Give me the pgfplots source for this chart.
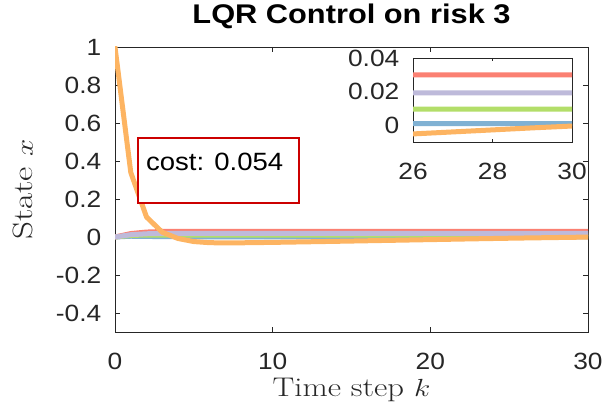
\documentclass[border=0pt]{standalone}
\usepackage{graphicx}
\usepackage{fontspec}
\usepackage{pgfplots}
\usepackage{pgfplotstable}
\pgfplotsset{compat=1.18}
\newfontfamily\hv{Liberation Sans}

\definecolor{axgray}{RGB}{38,38,38}
\definecolor{sBlue}{RGB}{128,177,211}
\definecolor{sGreen}{RGB}{179,222,105}
\definecolor{sRed}{RGB}{251,128,114}
\definecolor{sPurple}{RGB}{190,186,218}
\definecolor{sOrange}{RGB}{253,180,98}
\definecolor{boxred}{RGB}{204,0,0}

% closed-loop state trajectories, one column per state
\pgfplotstableread{
k  blue    green   red     purple  orange
0  0.0000  0.0000  0.0000  0.0000  1.0000
1  0.0040  0.0080  0.0180  0.0120  0.3400
2  0.0030  0.0105  0.0260  0.0170  0.1050
3  0.0020  0.0100  0.0290  0.0187  0.0250
4  0.0015  0.0097  0.0298  0.0191  -0.0080
5  0.0012  0.0096  0.0300  0.0192  -0.0240
6  0.0010  0.0096  0.0300  0.0192  -0.0300
7  0.0010  0.0096  0.0300  0.0192  -0.0310
8  0.0010  0.0096  0.0300  0.0192  -0.0305
9  0.0010  0.0096  0.0300  0.0192  -0.0295
10 0.0010  0.0096  0.0300  0.0192  -0.0283
11 0.0010  0.0096  0.0300  0.0192  -0.0270
12 0.0010  0.0096  0.0300  0.0192  -0.0256
13 0.0010  0.0096  0.0300  0.0192  -0.0242
14 0.0010  0.0096  0.0300  0.0192  -0.0228
15 0.0010  0.0096  0.0300  0.0192  -0.0213
16 0.0010  0.0096  0.0300  0.0192  -0.0198
17 0.0010  0.0096  0.0300  0.0192  -0.0183
18 0.0010  0.0096  0.0300  0.0192  -0.0168
19 0.0010  0.0096  0.0300  0.0192  -0.0153
20 0.0010  0.0096  0.0300  0.0192  -0.0138
21 0.0010  0.0096  0.0300  0.0192  -0.0123
22 0.0010  0.0096  0.0300  0.0192  -0.0108
23 0.0010  0.0096  0.0300  0.0192  -0.0093
24 0.0010  0.0096  0.0300  0.0192  -0.0079
25 0.0010  0.0096  0.0300  0.0192  -0.0065
26 0.0010  0.0096  0.0300  0.0192  -0.0052
27 0.0010  0.0096  0.0300  0.0192  -0.0040
28 0.0010  0.0096  0.0300  0.0192  -0.0028
29 0.0010  0.0096  0.0300  0.0192  -0.0016
30 0.0010  0.0096  0.0300  0.0192  -0.0005
}\states

\newcommand\sx[2][1.12]{\scalebox{#1}[1]{#2}}

\pgfplotsset{
  matlab/.style={
    scale only axis,
    axis line style={axgray, line width=0.8bp},
    tick style={axgray, line width=0.8bp},
    tick align=inside,
    xtick pos=both, ytick pos=both,
    every tick label/.append style={text=axgray, inner sep=0pt},
    scaled y ticks=false, scaled x ticks=false,
    xticklabel style={font=\hv\fontsize{23.5bp}{28bp}\selectfont, anchor=north, yshift=-21bp},
    yticklabel style={font=\hv\fontsize{23.5bp}{28bp}\selectfont, anchor=east, xshift=-13.5bp},
  },
  trace/.style={line width=5bp, line join=round, line cap=round},
}

\begin{document}
\begin{tikzpicture}
\useasboundingbox (0,0) rectangle (605bp,415bp);

\begin{axis}[
  matlab,
  at={(115bp,83bp)}, anchor=south west,
  width=473bp, height=285bp,
  xmin=0, xmax=30, ymin=-0.5, ymax=1,
  xtick={0,10,20,30},
  xticklabels={\sx{0},\sx{10},\sx{20},\sx{30}},
  ytick={-0.4,-0.2,0,0.2,0.4,0.6,0.8,1},
  yticklabels={\sx{-0.4},\sx{-0.2},\sx{0},\sx{0.2},\sx{0.4},\sx{0.6},\sx{0.8},\sx{1}},
  major tick length=5bp,
  title={\hv\fontsize{27bp}{32bp}\selectfont\bfseries\sx[1.14]{LQR Control on risk 3}},
  title style={at={(axis description cs:0.5,1.063)}, anchor=base, inner sep=0pt, text=black},
  xlabel={\fontsize{27bp}{32bp}\selectfont\sx[1.21]{Time step $k$}},
  xlabel style={at={(axis description cs:0.5,-0.228)}, anchor=base, inner sep=0pt, text=axgray},
  ylabel={\fontsize{28bp}{33bp}\selectfont\sx[1.25]{State $x$}},
  ylabel style={at={(axis description cs:-0.1734,0.5)}, anchor=base, inner sep=0pt, text=axgray},
]
\addplot[trace, sBlue]   table[x=k, y=blue]   {\states};
\addplot[trace, sGreen]  table[x=k, y=green]  {\states};
\addplot[trace, sRed]    table[x=k, y=red]    {\states};
\addplot[trace, sPurple] table[x=k, y=purple] {\states};
\addplot[trace, sOrange] table[x=k, y=orange] {\states};

% cost annotation
\draw[boxred, line width=1.8bp, fill=white] (axis cs:1.459,0.179) rectangle (axis cs:11.67,0.521);
\node[anchor=base west, inner sep=0pt, font=\hv\fontsize{25bp}{30bp}\selectfont]
  at (axis cs:1.966,0.349) {\sx[1.1]{cost: 0.054}};
\end{axis}

% zoomed view of the tail
\begin{axis}[
  matlab,
  at={(413bp,273bp)}, anchor=south west,
  width=159bp, height=84bp,
  axis background/.style={fill=white},
  xmin=26, xmax=30, ymin=-0.01, ymax=0.04,
  xtick={26,28,30},
  xticklabels={\sx{26},\sx{28},\sx{30}},
  ytick={0,0.02,0.04},
  yticklabels={\sx{0},\sx{0.02},\sx{0.04}},
  major tick length=3bp,
]
\addplot[trace, sBlue]   table[x=k, y=blue]   {\states};
\addplot[trace, sGreen]  table[x=k, y=green]  {\states};
\addplot[trace, sRed]    table[x=k, y=red]    {\states};
\addplot[trace, sPurple] table[x=k, y=purple] {\states};
\addplot[trace, sOrange] table[x=k, y=orange] {\states};
\end{axis}
\end{tikzpicture}
\end{document}
